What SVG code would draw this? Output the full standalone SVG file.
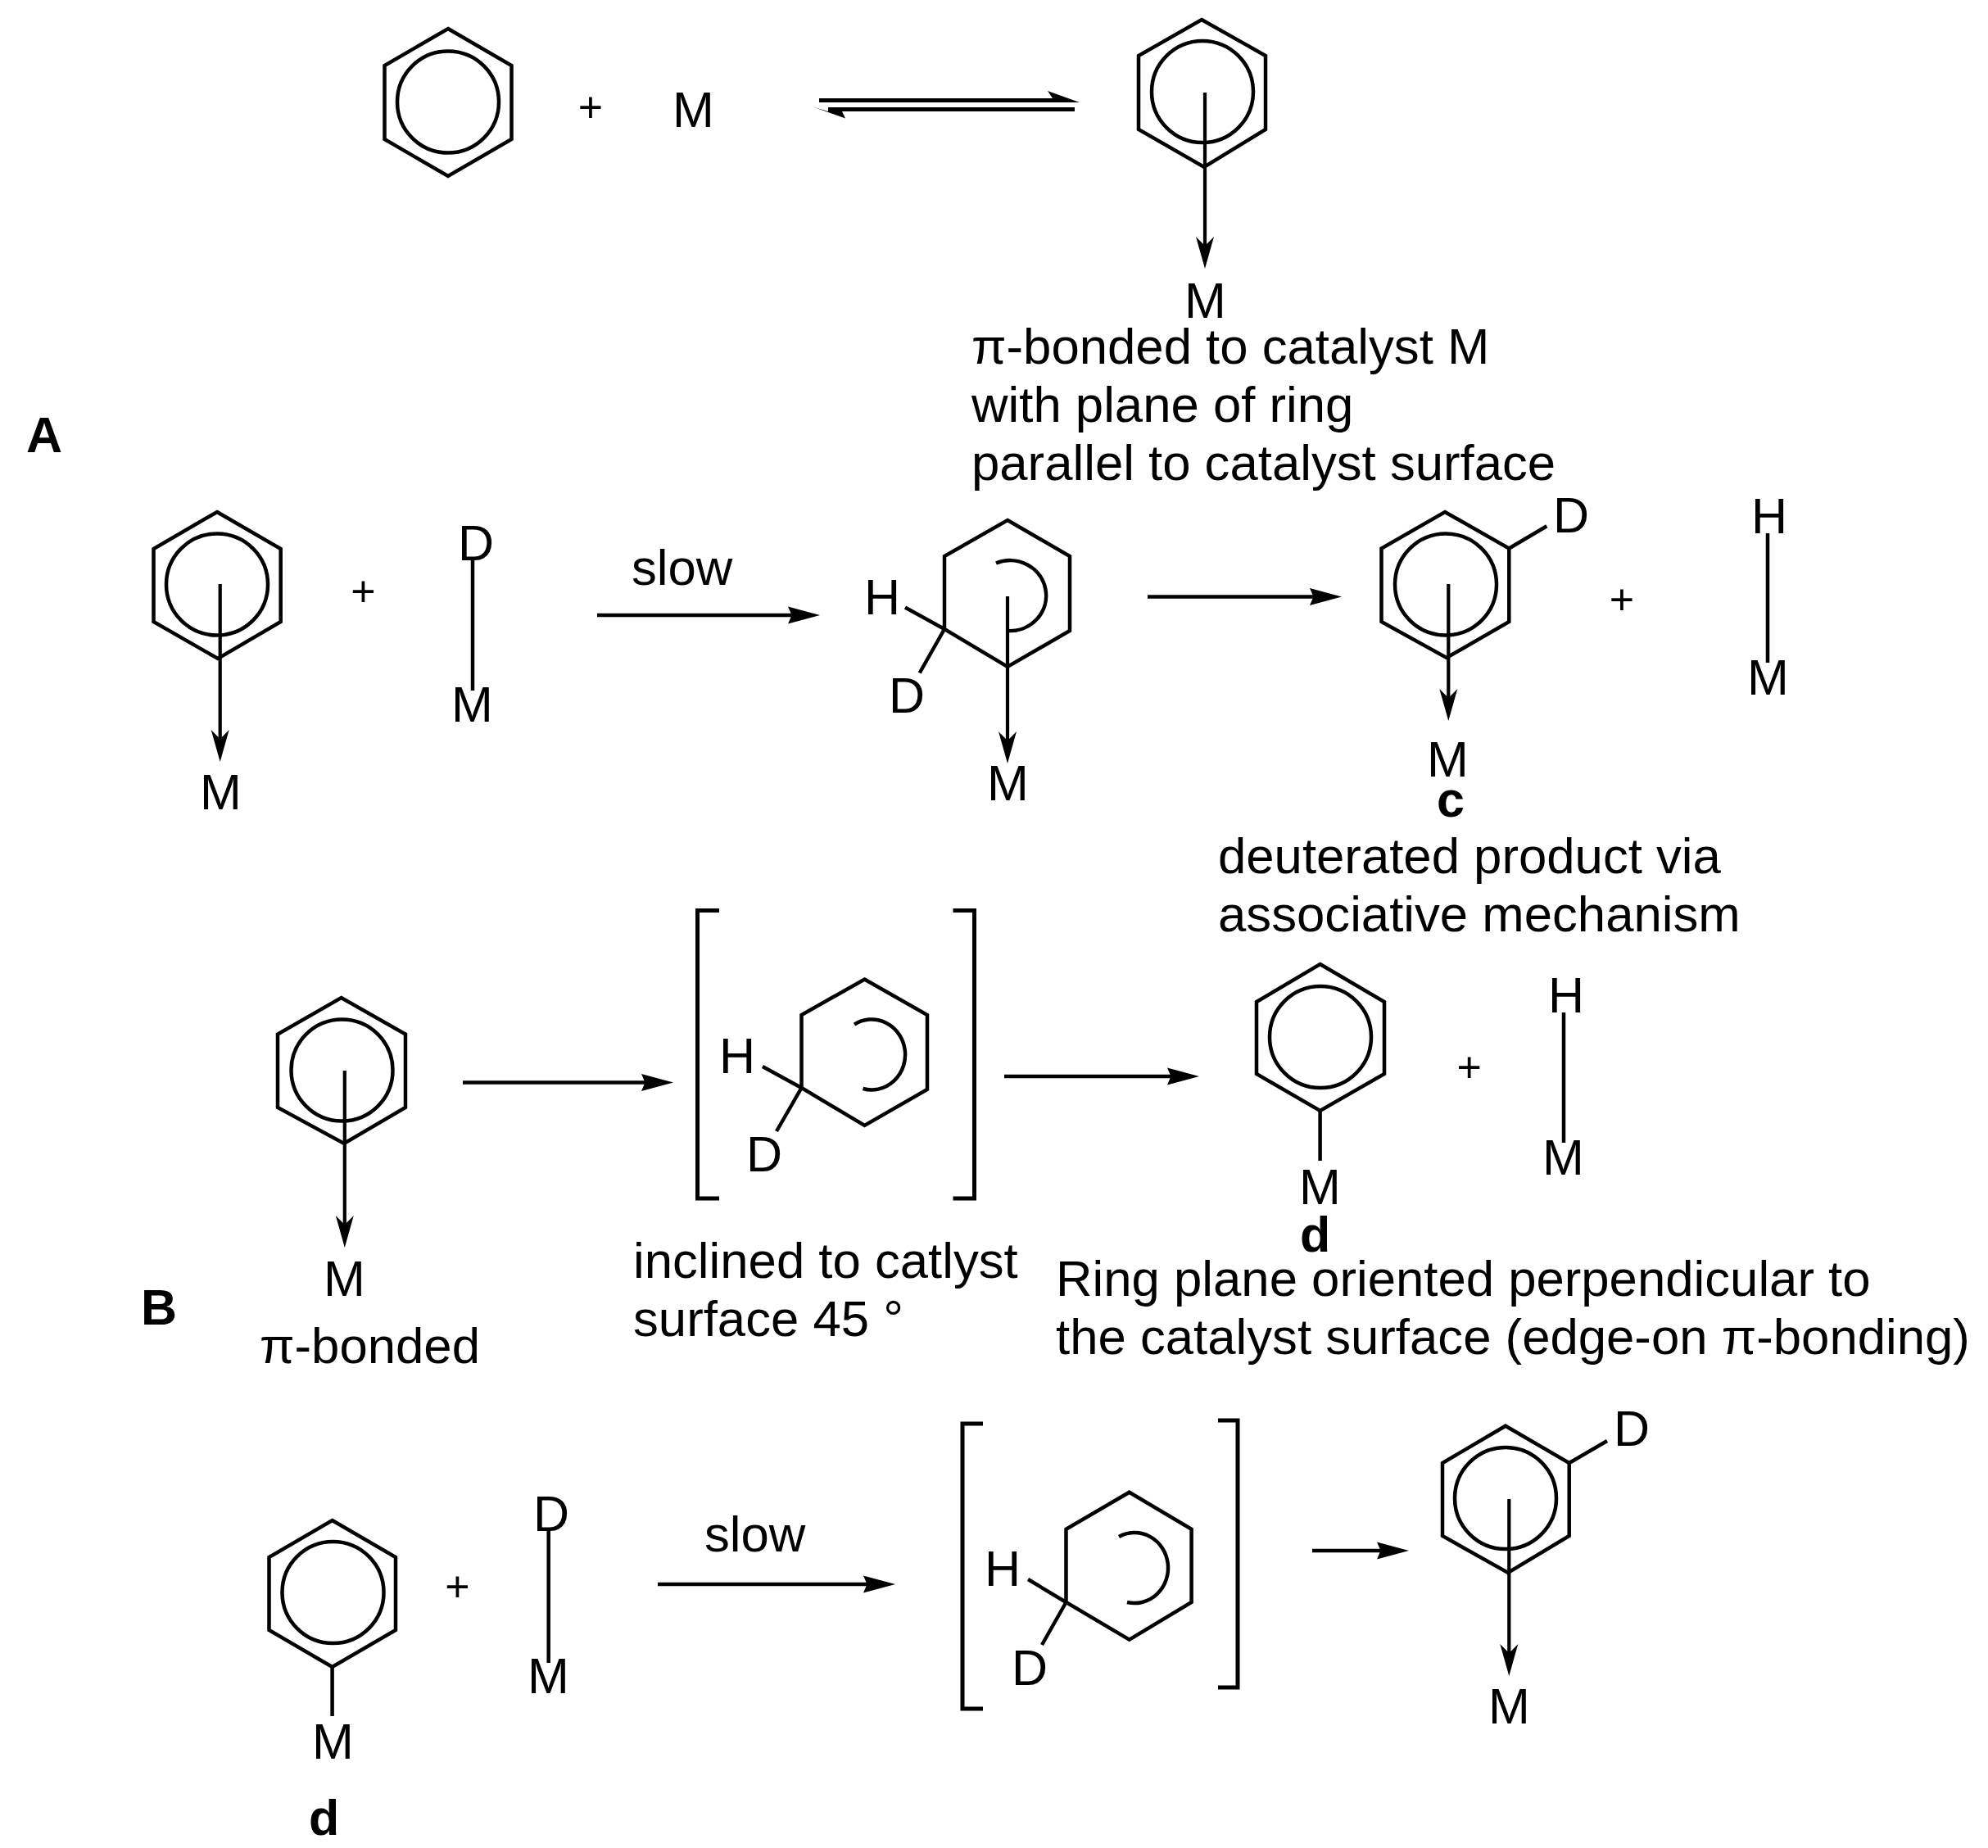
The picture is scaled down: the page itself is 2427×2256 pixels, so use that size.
<svg xmlns="http://www.w3.org/2000/svg" width="2427" height="2256" viewBox="0 0 2427 2256">
<style>
text{font-family:"Liberation Sans",Arial,sans-serif;font-size:61px;fill:#000}
.n text,.n{font-size:61.7px}
.b{font-weight:bold}
.p{font-size:52px;text-anchor:middle}
.r,.c,.a{fill:none;stroke:#000;stroke-width:4.5}
.l{fill:none;stroke:#000;stroke-width:4.5}
.e{fill:none;stroke:#000;stroke-width:5}
.ar{fill:none;stroke:#000;stroke-width:4.7;marker-end:url(#h)}
.av{fill:none;stroke:#000;stroke-width:4.2;marker-end:url(#v)}
.th{fill:none;stroke:#000;stroke-width:5}
</style>
<defs>
<marker id="h" markerUnits="userSpaceOnUse" viewBox="0 0 40 24" refX="14" refY="12" markerWidth="40" markerHeight="24" orient="auto"><path d="M40,12L1,1.5L5.5,12L1,22.5Z" fill="#000"/></marker>
<marker id="v" markerUnits="userSpaceOnUse" viewBox="0 0 40 24" refX="14" refY="12" markerWidth="40" markerHeight="24" orient="auto"><path d="M40,12L1,1L12,12L1,23Z" fill="#000"/></marker>
</defs>
<rect width="2427" height="2256" fill="#fff"/>
<g id="connectors">
<line class="e" x1="1000" y1="122.5" x2="1295" y2="122.5"/><polygon points="1279,111 1318,125 1285,125 1285,120"/>
<line class="e" x1="1011" y1="133.5" x2="1312" y2="133.5"/><polygon points="994,131 1032,144.5 1028,136 1011,136"/>
<line class="ar" x1="729" y1="751" x2="975" y2="751"/>
<line class="ar" x1="1401" y1="728.5" x2="1612" y2="728.5"/>
<line class="ar" x1="565" y1="1321.5" x2="796" y2="1321.5"/>
<line class="ar" x1="1226" y1="1314" x2="1438" y2="1314"/>
<line class="ar" x1="803" y1="1934" x2="1067" y2="1934"/>
<line class="ar" x1="1602" y1="1893" x2="1694" y2="1893"/>
<line class="av" x1="1471" y1="113" x2="1471" y2="302"/>
<line class="av" x1="268.7" y1="713" x2="268.7" y2="904"/>
<line class="av" x1="1230" y1="728" x2="1230" y2="906"/>
<line class="av" x1="1768.3" y1="713" x2="1768.3" y2="854"/>
<line class="av" x1="420.8" y1="1307" x2="420.8" y2="1497"/>
<line class="av" x1="1842.3" y1="1830" x2="1842.3" y2="2020"/>
<line class="l" x1="577" y1="684" x2="577" y2="843"/>
<line class="l" x1="2158" y1="651" x2="2158" y2="809"/>
<line class="l" x1="1909" y1="1236" x2="1909" y2="1395"/>
<line class="l" x1="669.7" y1="1869" x2="669.7" y2="2030"/>
<line class="l" x1="1611.6" y1="1356" x2="1611.6" y2="1417"/>
<line class="l" x1="405.6" y1="2035" x2="405.6" y2="2095"/>
</g>
<g id="benzene-1"><polygon class="r" points="547,35 624.5,80 624.5,170 547,215 469.5,170 469.5,80"/><circle class="c" cx="547" cy="124.5" r="62"/></g>
<g id="plus-1"><text class="p" x="721" y="149">+</text></g>
<g id="metal-1"><text x="821" y="155">M</text></g>
<g id="complex-1"><polygon class="r" points="1467,24 1545,68 1545,158 1470,204 1390,158 1390,68"/><circle class="c" cx="1468" cy="112" r="62"/><text x="1446" y="388">M</text></g>
<g id="note-1" class="n"><text x="1186" y="444">π-bonded to catalyst M</text><text x="1186" y="515">with plane of ring</text><text x="1186" y="585.5">parallel to catalyst surface</text></g>
<g id="label-A"><text class="b" x="32" y="552">A</text></g>
<g id="complex-2"><polygon class="r" points="265,625 342.7,670 342.7,759 266,804 187.5,759 187.5,670"/><circle class="c" cx="265" cy="713.5" r="62"/><text x="244" y="988">M</text></g>
<g id="plus-2"><text class="p" x="443.5" y="739.5">+</text></g>
<g id="DM-1"><text x="559" y="684">D</text><text x="551" y="881">M</text></g>
<g id="label-slow-1" class="n"><text x="771" y="714">slow</text></g>
<g id="intermediate-1"><polygon class="r" points="1230,635 1306,679 1306,770 1230,814 1153,768 1153,679"/><path class="a" d="M1216,687.5A44,43 0 1 1 1230,770"/><path class="l" d="M1153,768L1105,741.5M1153,768L1122.7,821.5"/><text x="1055" y="750">H</text><text x="1085" y="870">D</text><text x="1205" y="977">M</text></g>
<g id="complex-3"><polygon class="r" points="1764,625 1842.3,669.5 1842.3,759 1766,803 1686.5,759 1686.5,669.5"/><circle class="c" cx="1765" cy="713.5" r="62"/><path class="l" d="M1842.3,669.5L1888.3,642.3"/><text x="1896" y="650">D</text><text x="1742" y="947.5">M</text><text class="b" x="1754" y="997">c</text></g>
<g id="plus-3"><text class="p" x="1980" y="750">+</text></g>
<g id="HM-1"><text x="2138" y="651">H</text><text x="2133" y="848">M</text></g>
<g id="note-2" class="n"><text x="1487" y="1066">deuterated product via</text><text x="1487" y="1137">associative mechanism</text></g>
<g id="complex-4"><polygon class="r" points="416.6,1218 495,1262.5 495,1352 420,1396 339,1352 339,1262.5"/><circle class="c" cx="417.5" cy="1306.5" r="62"/><text x="395" y="1582">M</text></g>
<g id="label-B"><text class="b" x="172" y="1617">B</text></g>
<g id="note-3" class="n"><text x="317" y="1664">π-bonded</text></g>
<g id="intermediate-2"><path class="th" d="M878,1111.5H851.5V1463H878M1163.5,1111.5H1189.5V1463H1163.5"/><polygon class="r" points="1055.5,1195.5 1132,1239 1132,1330 1055.5,1374 978.5,1328 978.5,1239"/><path class="a" d="M1043,1250.6A41,43 0 1 1 1053.5,1329"/><path class="l" d="M978.5,1328L931,1302M978.5,1328L948,1381"/><text x="878" y="1310">H</text><text x="911" y="1430">D</text></g>
<g id="note-4" class="n"><text x="773" y="1560">inclined to catlyst</text><text x="773" y="1631">surface 45 °</text></g>
<g id="complex-5"><polygon class="r" points="1611.6,1177 1690,1223 1690,1311 1611.6,1356 1534,1311 1534,1223"/><circle class="c" cx="1612" cy="1266" r="62"/><text x="1586" y="1470">M</text><text class="b" x="1587" y="1528">d</text></g>
<g id="plus-4"><text class="p" x="1793.6" y="1321">+</text></g>
<g id="HM-2"><text x="1890" y="1236">H</text><text x="1883" y="1434">M</text></g>
<g id="note-5" class="n"><text x="1289" y="1582">Ring plane oriented perpendicular to</text><text x="1289" y="1653">the catalyst surface (edge-on π-bonding)</text></g>
<g id="complex-6"><polygon class="r" points="405.6,1856 483,1901 483,1990 405.6,2035 328.5,1990 328.5,1901"/><circle class="c" cx="406.5" cy="1944" r="62"/><text x="381" y="2147">M</text><text class="b" x="377" y="2240">d</text></g>
<g id="plus-5"><text class="p" x="558.5" y="1955">+</text></g>
<g id="DM-2"><text x="651" y="1869">D</text><text x="644" y="2067">M</text></g>
<g id="label-slow-2" class="n"><text x="860" y="1894">slow</text></g>
<g id="intermediate-3"><path class="th" d="M1200,1738H1175V2086H1200M1487,1734H1511V2060H1487"/><polygon class="r" points="1378.7,1821.7 1454.6,1866.7 1454.6,1956 1378.7,2001.7 1301.5,1956 1301.5,1866.7"/><path class="a" d="M1366,1876A41,43 0 1 1 1376,1956"/><path class="l" d="M1301.5,1956L1255,1928M1301.5,1956L1272,2008"/><text x="1202" y="1936">H</text><text x="1235" y="2057">D</text></g>
<g id="complex-7"><polygon class="r" points="1838,1740.7 1915.7,1786 1915.7,1875 1841,1920 1761,1875 1761,1786"/><circle class="c" cx="1838" cy="1829" r="62"/><path class="l" d="M1915.7,1786L1962,1759"/><text x="1970" y="1765">D</text><text x="1817" y="2104">M</text></g>
</svg>
